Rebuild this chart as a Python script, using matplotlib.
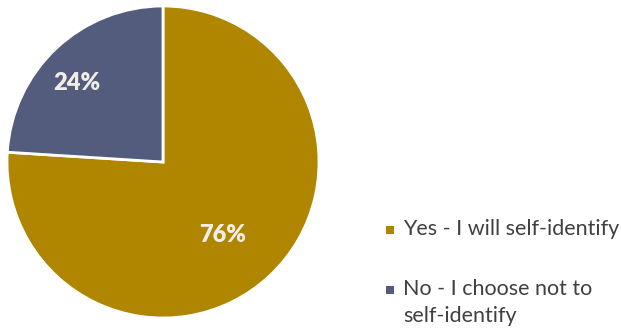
import matplotlib
matplotlib.use("Agg")
import matplotlib.pyplot as plt
from matplotlib.patches import Rectangle
import numpy as np

categories = ["Yes - I will self-identify", "No - I choose not to\nself-identify"]
shares = [76, 24]
colors = ["#B08600", "#535C7D"]
label_dist = [0.60, 0.75]
label_shift = [-4, 4]  # degrees nudged from the wedge middle

plt.rcParams["font.family"] = ["Lato", "DejaVu Sans"]

fig = plt.figure(figsize=(6.21, 3.33), dpi=100)
W, H = 621, 333
cx, cy, r = 163, 162, 156
ax = fig.add_axes([(cx - r) / W, (H - cy - r) / H, 2 * r / W, 2 * r / H])
wedges, _ = ax.pie(shares, colors=colors, startangle=90, counterclock=False,
                   radius=1, wedgeprops=dict(edgecolor="white", linewidth=2))
for w, v, d, s in zip(wedges, shares, label_dist, label_shift):
    ang = np.deg2rad((w.theta1 + w.theta2) / 2 + s)
    ax.text(d * np.cos(ang), d * np.sin(ang), f"{v}%", ha="center", va="center",
            color="#F0EEE6", fontsize=17, fontweight="heavy")
ax.set_xlim(-1.0, 1.0)
ax.set_ylim(-1.0, 1.0)
ax.axis("off")

# legend
ys = [230, 290]
for lab, col, y in zip(categories, colors, ys):
    fig.patches.append(Rectangle((386 / W, (H - y - 4) / H), 8 / W, 8 / H,
                                 transform=fig.transFigure, facecolor=col, edgecolor="none"))
    fig.text(403 / W, (H - y + 11) / H, lab, ha="left", va="top", fontsize=15.5,
             color="#404040", linespacing=1.45)

fig.savefig("out.png", dpi=100)
